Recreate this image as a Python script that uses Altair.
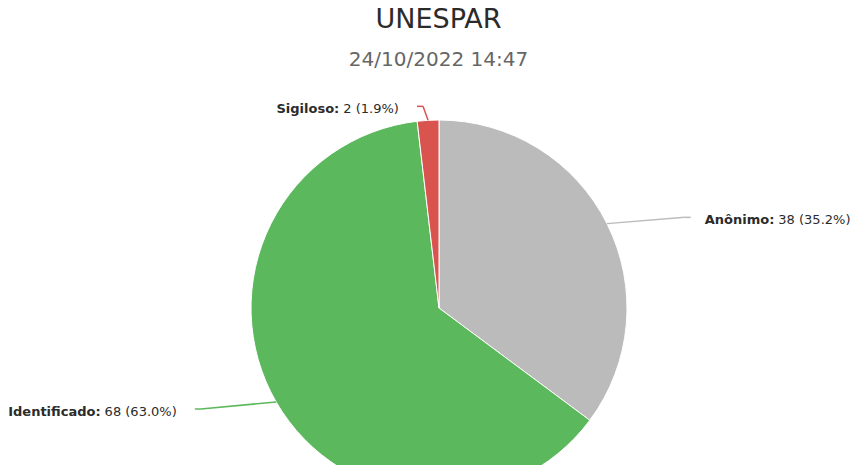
import altair as alt
import pandas as pd

# ---- data ----
categories = ["Anônimo", "Identificado", "Sigiloso"]
counts = [38, 68, 2]
colors = ["#BBBBBB", "#5CB85C", "#D9534F"]

title_text = "UNESPAR"
subtitle_text = "24/10/2022 14:47"

df = pd.DataFrame({
    "categoria": categories,
    "quantidade": counts,
    "ordem": list(range(len(categories))),
})

# ---- layout constants (pixels, plot coordinates) ----
PAD_TOP = 75
W, H = 855, 465 - PAD_TOP
CX, CY = 439, 308 - PAD_TOP
R = 188
LX, LY = 275, 202
FONT = "DejaVu Sans"
TXT = "#2b2b2b"

color = alt.Color("categoria:N", scale=alt.Scale(domain=categories, range=colors), legend=None)

base = alt.Chart(df)

pie = base.mark_arc(radius=R, stroke="white", strokeWidth=1).encode(
    theta=alt.Theta("quantidade:Q", stack=True),
    color=color,
    order=alt.Order("ordem:Q", sort="ascending"),
    x=alt.value(CX),
    y=alt.value(CY),
)

geo = (
    base.transform_joinaggregate(total="sum(quantidade)")
    .transform_window(cum="sum(quantidade)", sort=[alt.SortField("ordem")], frame=[None, 0])
    .transform_calculate(mid="2*PI*(datum.cum - datum.quantidade/2)/datum.total")
    .transform_calculate(pct="format(100*datum.quantidade/datum.total, '.1f')")
    .transform_calculate(side="sin(datum.mid) >= 0 ? 1 : -1")
    .transform_calculate(ex=f"{CX} + {R}*sin(datum.mid)")
    .transform_calculate(ey=f"{CY} - {R}*cos(datum.mid)")
    .transform_calculate(ax=f"{CX} + {LX}*sin(datum.mid)")
    .transform_calculate(ay=f"{CY} - {LY}*cos(datum.mid)")
    .transform_calculate(hx="datum.ax + datum.side*6")
    .transform_calculate(nm="datum.categoria + ':'")
    .transform_calculate(vt="datum.quantidade + ' (' + datum.pct + '%)'")
    .transform_calculate(
        vw="length(toString(datum.quantidade))*8.27 + (length(datum.pct)-1)*8.27 + 3*4.13 + 2*5.07 + 12.35"
    )
    .transform_calculate(lx="datum.ax + datum.side*20")
    .transform_calculate(
        bx="datum.side > 0 ? datum.lx + length(datum.nm)*8.7 : datum.lx - datum.vw - 4"
    )
    .transform_calculate(vx="datum.bx + 4")
    .transform_calculate(ty="datum.ay + 3")
)

X = lambda f: alt.X(f, type="quantitative", scale=None, axis=None)
Y = lambda f: alt.Y(f, type="quantitative", scale=None, axis=None)

leader1 = geo.mark_rule(strokeWidth=1.5).encode(
    x=X("ex"), y=Y("ey"), x2="ax:Q", y2="ay:Q", color=color
)
leader2 = geo.mark_rule(strokeWidth=1.5).encode(
    x=X("ax"), y=Y("ay"), x2="hx:Q", y2="ay:Q", color=color
)

names = geo.mark_text(
    align="right", baseline="middle", font=FONT, fontSize=13, fontWeight="bold", color=TXT
).encode(x=X("bx"), y=Y("ty"), text="nm:N")

vals = geo.mark_text(
    align="left", baseline="middle", font=FONT, fontSize=13, fontWeight="normal", color=TXT
).encode(x=X("vx"), y=Y("ty"), text="vt:N")

chart = (
    alt.layer(pie, leader1, leader2, names, vals)
    .properties(
        width=W,
        height=H,
        autosize=alt.AutoSizeParams(type="none"),
        padding={"left": 0, "right": 0, "top": PAD_TOP, "bottom": 0},
        title=alt.TitleParams(
            text=title_text,
            subtitle=subtitle_text,
            anchor="middle",
            dx=11,
            offset=4,
            font=FONT,
            fontSize=27,
            fontWeight="normal",
            color=TXT,
            subtitleFont=FONT,
            subtitleFontSize=20,
            subtitleColor="#666666",
            subtitlePadding=16,
        ),
    )
    .configure_view(stroke=None)
)

chart.save("out.html", embed_options={"renderer": "svg", "actions": False})
